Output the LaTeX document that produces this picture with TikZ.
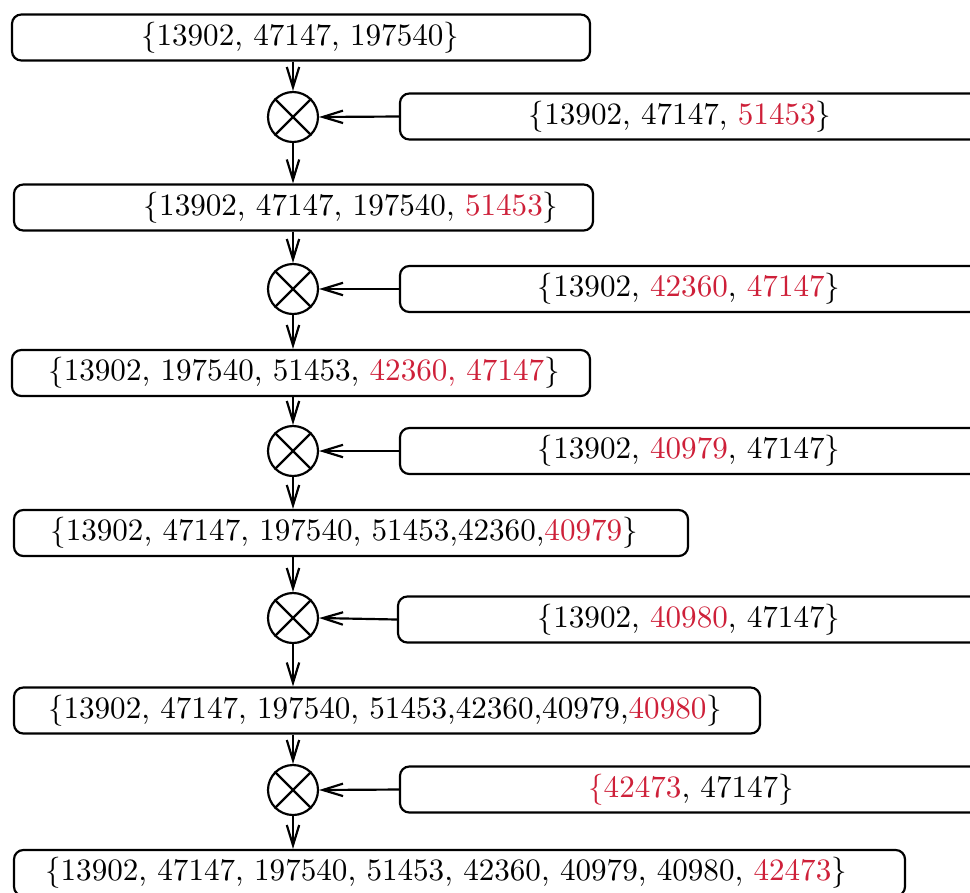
\documentclass[tikz,border=0pt]{standalone}
\usepackage{tikz}
\usetikzlibrary{arrows.meta,positioning}

\definecolor{newid}{RGB}{206,32,57}
\newcommand{\pxu}{0.3215pt}
\newcommand{\nw}[1]{\textcolor{newid}{#1}}

\begin{document}
\begin{tikzpicture}[x=\pxu,y=-\pxu]
	\tikzstyle{setbox}=[draw,line width=0.7pt,rounded corners=3pt,minimum height=46*\pxu,inner sep=0pt]
	\tikzstyle{addbox}=[setbox,minimum width=620*\pxu]
	\tikzstyle{settext}=[inner sep=0pt]
	\tikzstyle{merge}=[draw,line width=0.7pt,circle,minimum size=50*\pxu,inner sep=0pt]
	\tikzstyle{flow}=[line width=0.7pt,arrows={-Straight Barb[length=6.5pt,width=4pt]}]

	\useasboundingbox (0,0) rectangle (970,892);
	\clip (0,0) rectangle (970,892);

	\node[setbox,minimum width=578*\pxu] (s1) at (301,37.5) {};
	\node[settext] (t1) at (300,37.5) {$\{$13902, 47147, 197540$\}$};
	\node[merge] (c1) at (293,117) {};
	\node[addbox] (r1) at (710,116.5) {};
	\node[settext] (a1) at (680,116.5) {$\{$13902, 47147, \nw{51453}$\}$};

	\node[setbox,minimum width=579*\pxu] (s2) at (303.5,207.5) {};
	\node[settext] (t2) at (351,207.5) {$\{$13902, 47147, 197540, \nw{51453}$\}$};
	\node[merge] (c2) at (293,289) {};
	\node[addbox] (r2) at (710,289) {};
	\node[settext] (a2) at (689,289) {$\{$13902, \nw{42360}, \nw{47147}$\}$};

	\node[setbox,minimum width=578*\pxu] (s3) at (301,373) {};
	\node[settext] (t3) at (304,373) {$\{$13902, 197540, 51453, \nw{42360, 47147}$\}$};
	\node[merge] (c3) at (293,451) {};
	\node[addbox] (r3) at (710,451) {};
	\node[settext] (a3) at (689,451) {$\{$13902, \nw{40979}, 47147$\}$};

	\node[setbox,minimum width=674*\pxu] (s4) at (351,533) {};
	\node[settext] (t4) at (344,533) {$\{$13902, 47147, 197540, 51453,42360,\nw{40979}$\}$};
	\node[merge] (c4) at (293,618) {};
	\node[addbox] (r4) at (708,619.5) {};
	\node[settext] (a4) at (689,619.5) {$\{$13902, \nw{40980}, 47147$\}$};

	\node[setbox,minimum width=746*\pxu] (s5) at (387,710.5) {};
	\node[settext] (t5) at (385,710.5) {$\{$13902, 47147, 197540, 51453,42360,40979,\nw{40980}$\}$};
	\node[merge] (c5) at (293,790) {};
	\node[addbox] (r5) at (710,789.5) {};
	\node[settext] (a5) at (691,789.5) {\nw{$\{$42473}, 47147$\}$};

	\node[setbox,minimum width=891*\pxu] (s6) at (459.5,873) {};
	\node[settext] (t6) at (446,873) {$\{$13902, 47147, 197540, 51453, 42360, 40979, 40980, \nw{42473}$\}$};

	\draw[line width=0.7pt] (c1.45) -- (c1.225) (c1.135) -- (c1.315);
	\draw[line width=0.7pt] (c2.45) -- (c2.225) (c2.135) -- (c2.315);
	\draw[line width=0.7pt] (c3.45) -- (c3.225) (c3.135) -- (c3.315);
	\draw[line width=0.7pt] (c4.45) -- (c4.225) (c4.135) -- (c4.315);
	\draw[line width=0.7pt] (c5.45) -- (c5.225) (c5.135) -- (c5.315);

	\draw[flow] (s1.south -| c1) -- (c1.north);
	\draw[flow] (r1.west) -- (c1.east);
	\draw[flow] (c1.south) -- (s2.north -| c1);
	\draw[flow] (s2.south -| c2) -- (c2.north);
	\draw[flow] (r2.west) -- (c2.east);
	\draw[flow] (c2.south) -- (s3.north -| c2);
	\draw[flow] (s3.south -| c3) -- (c3.north);
	\draw[flow] (r3.west) -- (c3.east);
	\draw[flow] (c3.south) -- (s4.north -| c3);
	\draw[flow] (s4.south -| c4) -- (c4.north);
	\draw[flow] (r4.west) -- (c4.east);
	\draw[flow] (c4.south) -- (s5.north -| c4);
	\draw[flow] (s5.south -| c5) -- (c5.north);
	\draw[flow] (r5.west) -- (c5.east);
	\draw[flow] (c5.south) -- (s6.north -| c5);
\end{tikzpicture}
\end{document}
